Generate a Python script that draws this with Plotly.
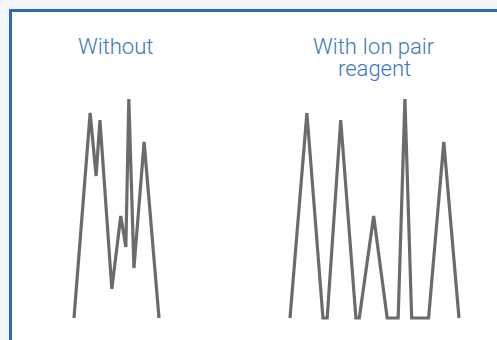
import plotly.graph_objects as go

# Data (arbitrary units)
without_time = [0.0, 1.9, 2.6, 3.05, 4.45, 5.5, 6.1, 6.45, 7.05, 8.25, 10.0]
without_signal = [0, 205, 142, 198, 29, 102, 71, 219, 50, 176, 0]

with_time = [0.0, 2.0, 3.9, 4.4, 6.0, 7.8, 8.2, 9.9, 11.5, 12.8, 13.6, 14.4, 16.4, 18.2, 20.0]
with_signal = [0, 205, 0, 0, 198, 0, 0, 102, 0, 0, 219, 0, 0, 176, 0]

title_left = "Without"
title_right_lines = ["With Ion pair", "reagent"]

W, H = 497, 340
LINE = "#6b6b6b"
BLUE_TXT = "#3878c0"
BLUE_BORDER = "#2a6bb8"

# pixel geometry of the two panels
x0_left, ppu_left = 74, 8.5
x0_right, ppu_right = 290, 8.45
y0_pix, ppu_y = 318, 1.0
split = 248.5

fig = go.Figure()
fig.add_trace(go.Scatter(x=without_time, y=without_signal, mode="lines",
                         line=dict(color=LINE, width=3.2), xaxis="x", yaxis="y",
                         hoverinfo="skip"))
fig.add_trace(go.Scatter(x=with_time, y=with_signal, mode="lines",
                         line=dict(color=LINE, width=3.2), xaxis="x2", yaxis="y",
                         hoverinfo="skip"))

yr = [-(H - y0_pix) / ppu_y, y0_pix / ppu_y]
xr1 = [-x0_left / ppu_left, (split - x0_left) / ppu_left]
xr2 = [(split - x0_right) / ppu_right, (W - x0_right) / ppu_right]

font = dict(family="Roboto", size=22, color=BLUE_TXT, weight=300)
axis_off = dict(visible=False, showgrid=False, zeroline=False, fixedrange=True)
ann = dict(xref="paper", yref="paper", showarrow=False, font=font,
           xanchor="center", yanchor="middle")
fig.update_layout(
    width=W, height=H, margin=dict(l=0, r=0, t=0, b=0),
    paper_bgcolor="#f4f6fb", plot_bgcolor="rgba(0,0,0,0)",
    showlegend=False,
    xaxis=dict(domain=[0, split / W], range=xr1, **axis_off),
    xaxis2=dict(domain=[split / W, 1], range=xr2, anchor="y", **axis_off),
    yaxis=dict(domain=[0, 1], range=yr, **axis_off),
    shapes=[dict(type="rect", xref="paper", yref="paper", layer="below",
                 x0=10.5 / W, x1=1.05, y0=-0.05, y1=1 - 10.5 / H,
                 line=dict(color=BLUE_BORDER, width=3), fillcolor="white")],
    annotations=[
        dict(text=title_left, x=115 / W, y=1 - 47 / H, **ann),
        dict(text=title_right_lines[0], x=374 / W, y=1 - 47 / H, **ann),
        dict(text=title_right_lines[1], x=374 / W, y=1 - 69 / H, **ann),
    ],
)
fig.write_html("out.html", config={"displayModeBar": False},
               post_script="document.body.style.margin='0';document.body.style.background='#f4f6fb';")
